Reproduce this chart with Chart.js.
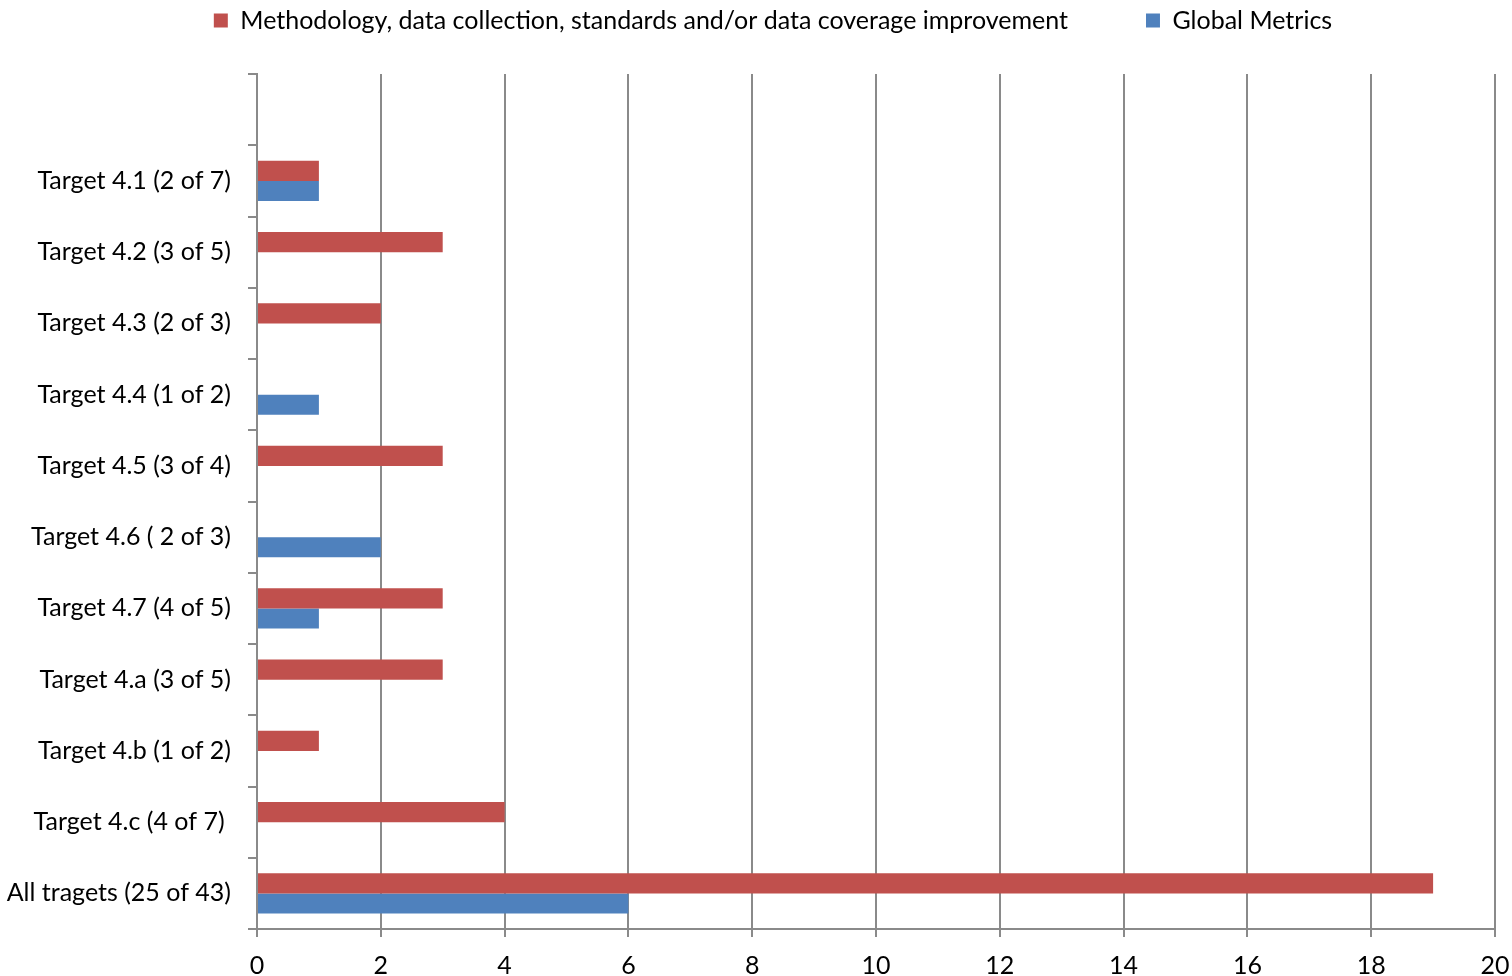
<!DOCTYPE html>
<html>
<head>
<meta charset="utf-8">
<script src="https://cdn.jsdelivr.net/npm/chart.js@4/dist/chart.umd.min.js"></script>
<style>
  html, body { margin: 0; padding: 0; background: #fff; }
  #wrap { width: 1512px; height: 976px; position: relative; }
</style>
</head>
<body>
<div id="wrap"><canvas id="c" width="1512" height="976"></canvas></div>
<script>
// Targets (top row is left blank, as in the original worksheet)
const categories = [
  '',
  'Target 4.1 (2 of 7)',
  'Target 4.2 (3 of 5)',
  'Target 4.3 (2 of 3)',
  'Target 4.4 (1 of 2)',
  'Target 4.5 (3 of 4)',
  'Target 4.6 ( 2 of 3)',
  'Target 4.7 (4 of 5)',
  'Target 4.a (3 of 5)',
  'Target 4.b (1 of 2)',
  'Target 4.c (4 of 7) ',
  'All tragets (25 of 43)'
];
const methodologyValues = [null, 1, 3, 2, 0, 3, 0, 3, 3, 1, 4, 19];
const globalMetricsValues = [null, 1, 0, 0, 1, 0, 2, 1, 0, 0, 0, 6];
const seriesNames = ['Methodology, data collection, standards and/or data coverage improvement', 'Global Metrics'];
const xTicks = [0, 2, 4, 6, 8, 10, 12, 14, 16, 18, 20];

const FONT = 'Lato, Calibri, Carlito, "Open Sans", sans-serif';
const GRID = '#8a8a8a';

// Fixed legend height; items are drawn near the top edge, nudged right
const legendSpacing = {
  id: 'legendSpacing',
  beforeInit(chart) {
    const legend = chart.legend;
    const fit = legend.fit;
    legend.fit = function () {
      fit.call(this);
      this.height = 74;
    };
    const draw = legend.draw;
    legend.draw = function () {
      const ctx = this.ctx;
      const top = this.top;
      this.top = -70;
      ctx.save();
      ctx.translate(17, 0);
      draw.call(this);
      ctx.restore();
      this.top = top;
    };
  }
};

new Chart(document.getElementById('c'), {
  type: 'bar',
  data: {
    labels: categories,
    datasets: [
      { label: seriesNames[0], data: methodologyValues, backgroundColor: '#C0504D', borderWidth: 0 },
      { label: seriesNames[1], data: globalMetricsValues, backgroundColor: '#4F81BD', borderWidth: 0 }
    ]
  },
  options: {
    indexAxis: 'y',
    responsive: false,
    animation: false,
    devicePixelRatio: 1,
    layout: { padding: 0 },
    datasets: { bar: { categoryPercentage: 0.565, barPercentage: 1.0 } },
    plugins: {
      tooltip: { enabled: false },
      legend: {
        position: 'top',
        labels: {
          color: '#000',
          font: { family: FONT, size: 25 },
          boxWidth: 14,
          boxHeight: 14,
          padding: 78
        }
      }
    },
    scales: {
      x: {
        min: 0, max: 20,
        afterBuildTicks: (s) => { s.ticks = xTicks.map(v => ({ value: v })); },
        afterFit: (s) => { s.height = 47; s.paddingRight = 17; s.paddingLeft = 0; },
        grid: { color: GRID, lineWidth: 2, tickLength: 8, drawTicks: true },
        border: { color: GRID, width: 2 },
        ticks: { color: '#000', font: { family: FONT, size: 25 }, padding: 14, maxRotation: 0 }
      },
      y: {
        afterFit: (s) => { s.width = 257; },
        grid: { display: true, drawOnChartArea: false, offset: true, color: GRID, lineWidth: 2, tickLength: 9 },
        border: { color: GRID, width: 2 },
        ticks: { color: '#000', font: { family: FONT, size: 25 }, padding: 17, autoSkip: false }
      }
    }
  },
  plugins: [legendSpacing]
});
</script>
</body>
</html>
